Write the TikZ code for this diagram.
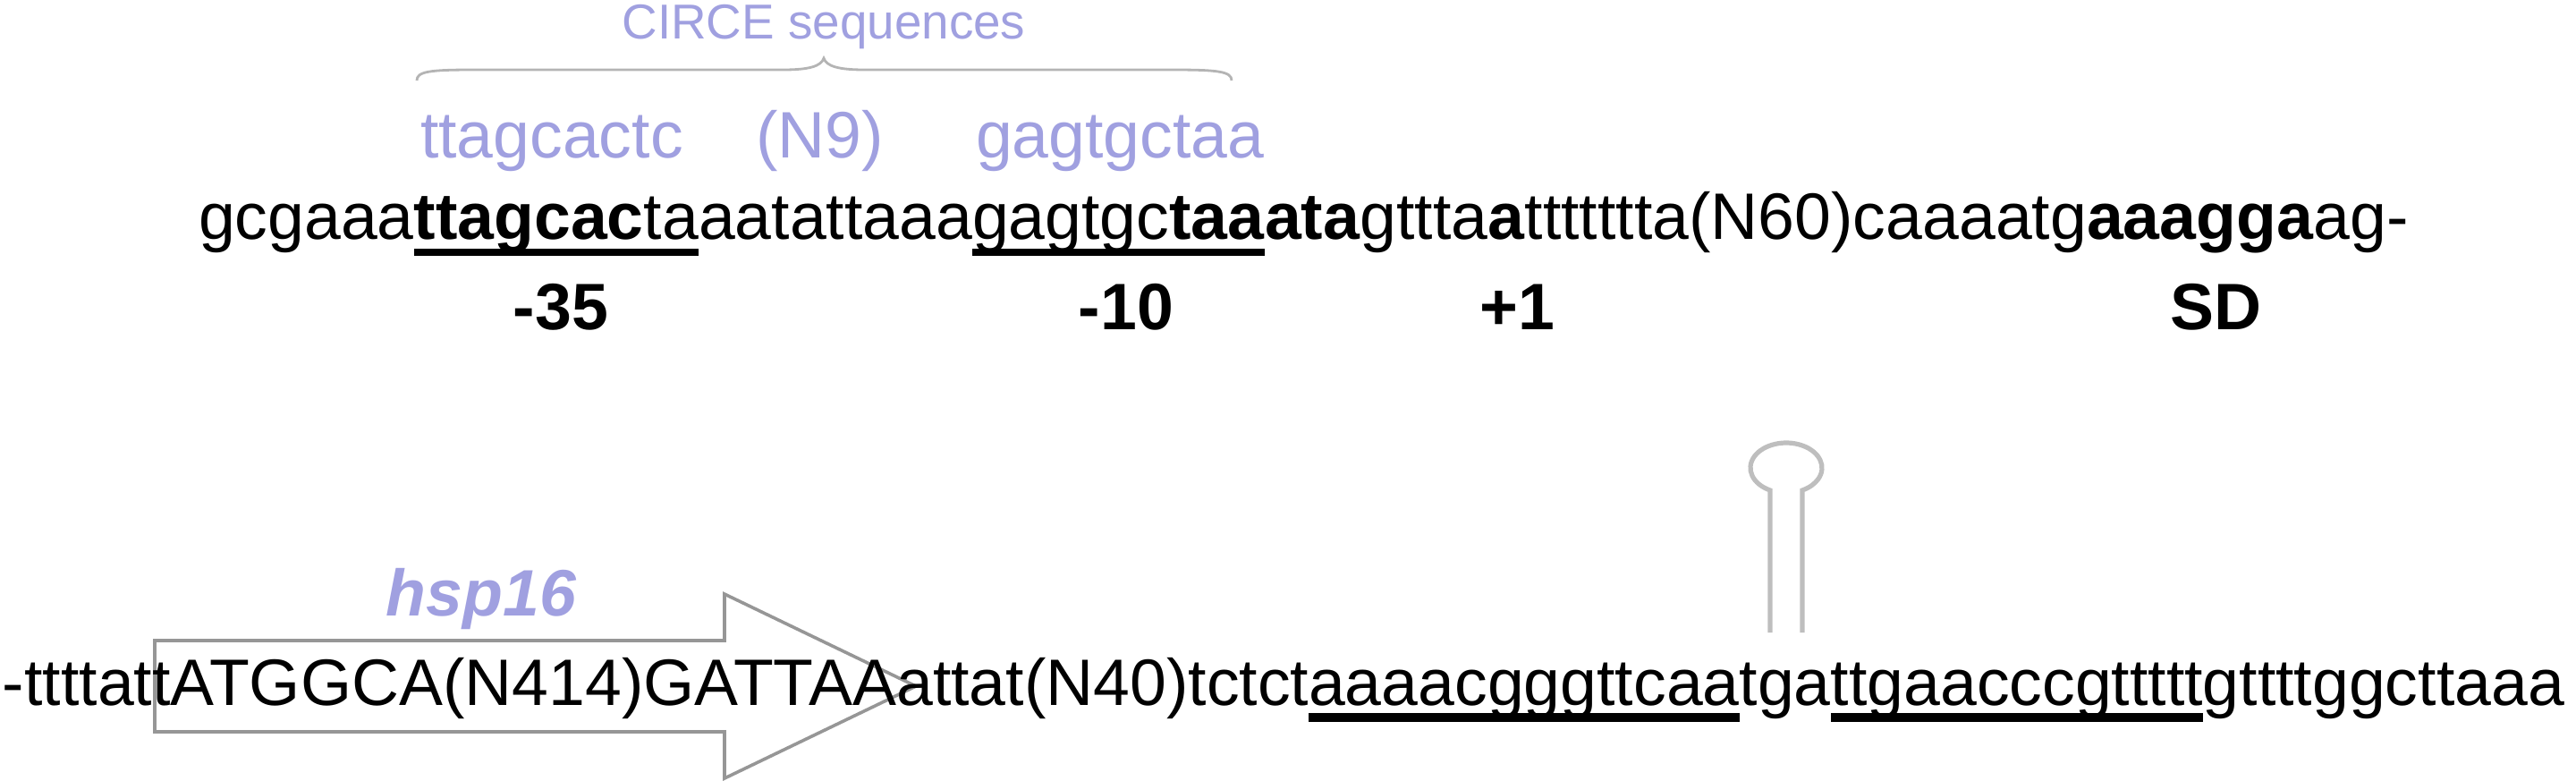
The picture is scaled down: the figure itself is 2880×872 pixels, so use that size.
\documentclass[tikz,border=0pt]{standalone}
\usepackage{fontspec}
\setmainfont{Liberation Sans}
\definecolor{circe}{RGB}{160,160,224}
\definecolor{linegray}{RGB}{150,150,150}
\definecolor{bracegray}{RGB}{180,180,180}
\definecolor{hairgray}{RGB}{190,190,190}
\begin{document}
\begin{tikzpicture}[x=0.25pt,y=-0.25pt,
  basefont/.style={inner sep=0pt,outer sep=0pt,font=\fontsize{18.35pt}{22pt}\selectfont},
  seq/.style={basefont,anchor=base west},
  lbl/.style={inner sep=0pt,outer sep=0pt,anchor=base,font=\fontsize{18.35pt}{22pt}\selectfont\bfseries},
  bluelbl/.style={basefont,anchor=base west,text=circe},
  uline/.style={fill=black},
  outline/.style={draw=linegray,line width=0.9pt,line join=miter},
  hairpin/.style={draw=hairgray,line width=1.3pt},
  bracepath/.style={draw=bracegray,line width=0.7pt}]
\useasboundingbox (0,0) rectangle (2880,872);

% CIRCE heading and brace
\node[inner sep=0pt,anchor=base,text=circe,font=\fontsize{13.7pt}{16pt}\selectfont] (circe) at (921,43) {CIRCE sequences};
\draw[bracepath] (466,90) .. controls (466,80) and (480,78) .. (528,78) -- (875,78)
  .. controls (905,78) and (918,74) .. (921,65)
  .. controls (924,74) and (937,78) .. (967,78) -- (1313,78)
  .. controls (1362,78) and (1377,80) .. (1377,90);

% blue CIRCE elements
\node[bluelbl] (c1) at (470,176) {ttagcactc};
\node[bluelbl] (c2) at (845,176) {(N9)};
\node[bluelbl] (c3) at (1091,176) {gagtgctaa};

% top sequence
\node[seq] (t1) at (222,267) {gcgaaa};
\node[seq] (t2) at (t1.base east) {\textbf{ttagcac}};
\node[seq] (t3) at (t2.base east) {ta};
\node[seq] (t4) at (t3.base east) {aatattaaa};
\node[seq] (t5) at (t4.base east) {gagtgc};
\node[seq] (t6) at (t5.base east) {\textbf{taa}};
\node[seq] (t7) at (t6.base east) {\textbf{ata}};
\node[seq] (t8) at (t7.base east) {gttta};
\node[seq] (t9) at (t8.base east) {\textbf{a}};
\node[seq] (t10) at (t9.base east) {ttttttta(N60)caaaatg};
\node[seq] (t11) at (t10.base east) {\textbf{aaagga}};
\node[seq] (t12) at (t11.base east) {ag-};
\fill[uline] ([yshift=-2.75pt]t2.base west) rectangle ([yshift=-4.75pt]t3.base east);
\fill[uline] ([yshift=-2.75pt]t5.base west) rectangle ([yshift=-4.75pt]t6.base east);

% position labels
\node[lbl] (m35) at (627,368) {-35};
\node[lbl] (m10) at (1259,368) {-10};
\node[lbl] (p1) at (1696,368) {+1};
\node[lbl] (sd) at (2477,368) {SD};

% hsp16 arrow
\draw[outline] (173,716) -- (810,716) -- (810,664) -- (1024,767) -- (810,870) -- (810,818) -- (173,818) -- cycle;
\node[inner sep=0pt,anchor=base,text=circe,font=\fontsize{18.35pt}{22pt}\selectfont\bfseries\itshape] (hsp) at (538,688) {hsp16};

% terminator hairpin
\draw[hairpin] (1979,707) -- (1979,548) arc[start angle=116.7,end angle=423.3,x radius=40,y radius=28] -- (2015,707);

% bottom sequence
\node[seq] (b1) at (3,788) {-ttttatt};
\node[seq] (b2) at (b1.base east) {ATGGCA(N414)GATTAAattat(N40)tctct};
\node[seq] (b3) at (b2.base east) {aaaacgggttcaa};
\node[seq] (b4) at (b3.base east) {tga};
\node[seq] (b5) at (b4.base east) {ttgaacccgttttt};
\node[seq] (b6) at (b5.base east) {gttttggcttaaa};
\fill[uline] ([yshift=-2.25pt]b3.base west) rectangle ([yshift=-4.75pt]b3.base east);
\fill[uline] ([yshift=-2.25pt]b5.base west) rectangle ([yshift=-4.75pt]b5.base east);
\end{tikzpicture}
\end{document}
